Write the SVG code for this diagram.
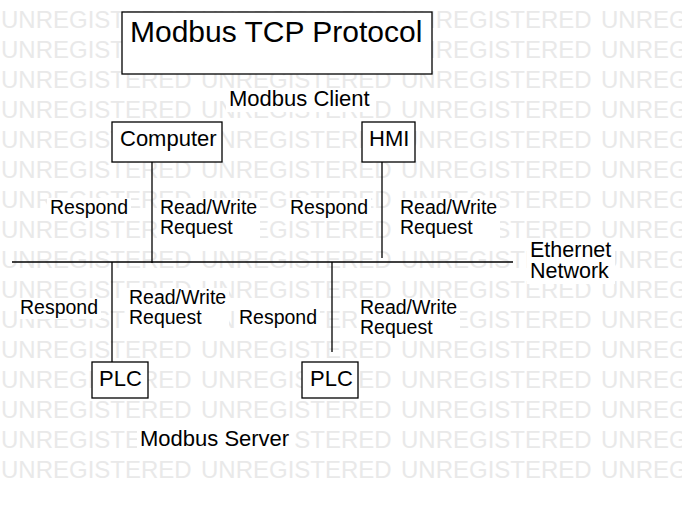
<svg xmlns="http://www.w3.org/2000/svg" width="682" height="508" viewBox="0 0 682 508">
<style>
text{font-family:"Liberation Sans",Arial,sans-serif;fill:#000}
.wm text{font-size:24px;fill:#e9e9e9}
.box{fill:#fff;stroke:#000;stroke-width:1.3}
.bg{fill:#fff}
.lbl{font-size:19.5px}
.nd{font-size:22px}
.conn path{stroke:#000;stroke-width:1.3;fill:none}
</style>
<rect width="682" height="508" fill="#fff"/>
<g class="wm" id="watermark">
<text x="1" y="28">UNREGISTERED</text><text x="201" y="28">UNREGISTERED</text><text x="401" y="28">UNREGISTERED</text><text x="601" y="28">UNREGISTERED</text>
<text x="1" y="58">UNREGISTERED</text><text x="201" y="58">UNREGISTERED</text><text x="401" y="58">UNREGISTERED</text><text x="601" y="58">UNREGISTERED</text>
<text x="1" y="88">UNREGISTERED</text><text x="201" y="88">UNREGISTERED</text><text x="401" y="88">UNREGISTERED</text><text x="601" y="88">UNREGISTERED</text>
<text x="1" y="118">UNREGISTERED</text><text x="201" y="118">UNREGISTERED</text><text x="401" y="118">UNREGISTERED</text><text x="601" y="118">UNREGISTERED</text>
<text x="1" y="148">UNREGISTERED</text><text x="201" y="148">UNREGISTERED</text><text x="401" y="148">UNREGISTERED</text><text x="601" y="148">UNREGISTERED</text>
<text x="1" y="178">UNREGISTERED</text><text x="201" y="178">UNREGISTERED</text><text x="401" y="178">UNREGISTERED</text><text x="601" y="178">UNREGISTERED</text>
<text x="1" y="208">UNREGISTERED</text><text x="201" y="208">UNREGISTERED</text><text x="401" y="208">UNREGISTERED</text><text x="601" y="208">UNREGISTERED</text>
<text x="1" y="238">UNREGISTERED</text><text x="201" y="238">UNREGISTERED</text><text x="401" y="238">UNREGISTERED</text><text x="601" y="238">UNREGISTERED</text>
<text x="1" y="268">UNREGISTERED</text><text x="201" y="268">UNREGISTERED</text><text x="401" y="268">UNREGISTERED</text><text x="601" y="268">UNREGISTERED</text>
<text x="1" y="298">UNREGISTERED</text><text x="201" y="298">UNREGISTERED</text><text x="401" y="298">UNREGISTERED</text><text x="601" y="298">UNREGISTERED</text>
<text x="1" y="328">UNREGISTERED</text><text x="201" y="328">UNREGISTERED</text><text x="401" y="328">UNREGISTERED</text><text x="601" y="328">UNREGISTERED</text>
<text x="1" y="358">UNREGISTERED</text><text x="201" y="358">UNREGISTERED</text><text x="401" y="358">UNREGISTERED</text><text x="601" y="358">UNREGISTERED</text>
<text x="1" y="388">UNREGISTERED</text><text x="201" y="388">UNREGISTERED</text><text x="401" y="388">UNREGISTERED</text><text x="601" y="388">UNREGISTERED</text>
<text x="1" y="418">UNREGISTERED</text><text x="201" y="418">UNREGISTERED</text><text x="401" y="418">UNREGISTERED</text><text x="601" y="418">UNREGISTERED</text>
<text x="1" y="448">UNREGISTERED</text><text x="201" y="448">UNREGISTERED</text><text x="401" y="448">UNREGISTERED</text><text x="601" y="448">UNREGISTERED</text>
<text x="1" y="478">UNREGISTERED</text><text x="201" y="478">UNREGISTERED</text><text x="401" y="478">UNREGISTERED</text><text x="601" y="478">UNREGISTERED</text>
</g>
<g class="conn" id="connectors">
<path d="M12 262H513"/>
<path d="M152 162V263"/>
<path d="M382 162V258"/>
<path d="M112 262V362"/>
<path d="M332 262V352"/>
</g>
<g id="title">
<rect class="box" x="122" y="12" width="310" height="62"/>
<text x="130" y="42" font-size="30">Modbus TCP Protocol</text>
</g>
<g id="client-label">
<rect class="bg" x="226" y="88" width="150" height="24"/>
<text class="nd" x="229" y="106">Modbus Client</text>
</g>
<g id="computer">
<rect class="box" x="112" y="122" width="110" height="40"/>
<text class="nd" x="120" y="146">Computer</text>
</g>
<g id="hmi">
<rect class="box" x="362" y="122" width="53" height="40"/>
<text class="nd" x="369" y="146">HMI</text>
</g>
<g id="plc1">
<rect class="box" x="92" y="362" width="56" height="36"/>
<text class="nd" x="99" y="386">PLC</text>
</g>
<g id="plc2">
<rect class="box" x="302" y="362" width="56" height="36"/>
<text class="nd" x="310" y="386">PLC</text>
</g>
<g id="server-label">
<rect class="bg" x="137" y="428" width="158" height="24"/>
<text class="nd" x="140" y="446">Modbus Server</text>
</g>
<g id="network-label">
<rect class="bg" x="527" y="239" width="88" height="45"/>
<text x="530" y="257" font-size="21.5">Ethernet</text>
<text x="530" y="278" font-size="21.5">Network</text>
</g>
<g id="labels" class="lbl">
<rect class="bg" x="47" y="198" width="84" height="21"/>
<text x="50" y="214">Respond</text>
<rect class="bg" x="157" y="198" width="103" height="41"/>
<text x="160" y="214">Read/Write</text>
<text x="160" y="234">Request</text>
<rect class="bg" x="287" y="198" width="84" height="21"/>
<text x="290" y="214">Respond</text>
<rect class="bg" x="397" y="198" width="103" height="41"/>
<text x="400" y="214">Read/Write</text>
<text x="400" y="234">Request</text>
<rect class="bg" x="17" y="298" width="84" height="21"/>
<text x="20" y="314">Respond</text>
<rect class="bg" x="126" y="288" width="103" height="41"/>
<text x="129" y="304">Read/Write</text>
<text x="129" y="324">Request</text>
<rect class="bg" x="236" y="308" width="84" height="21"/>
<text x="239" y="324">Respond</text>
<rect class="bg" x="357" y="298" width="103" height="41"/>
<text x="360" y="314">Read/Write</text>
<text x="360" y="334">Request</text>
</g>
</svg>
